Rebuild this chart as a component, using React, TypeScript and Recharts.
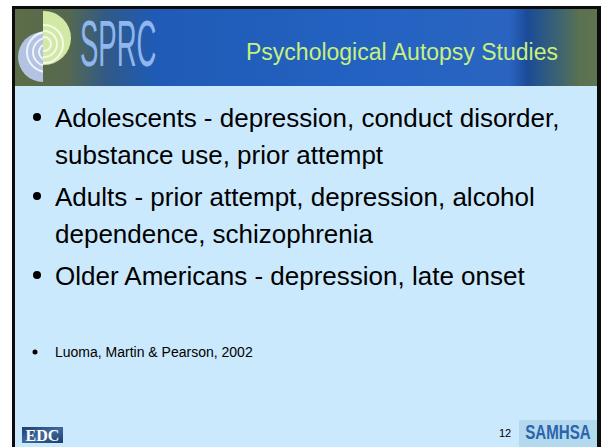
import { ComposedChart, Customized } from 'recharts';

// slide content
const slideTitle = 'Psychological Autopsy Studies';
const bulletPoints = [
  ['Adolescents - depression, conduct disorder,', 'substance use, prior attempt'],
  ['Adults - prior attempt, depression, alcohol', 'dependence, schizophrenia'],
  ['Older Americans - depression, late onset'],
];
const citations = ['Luoma, Martin & Pearson, 2002'];
const pageNumber = '12';
const logoLeft = 'SPRC';
const footerLeft = 'EDC';
const footerRight = 'SAMHSA';

const W = 602;
const H = 447;
const sans = 'Arial, "Liberation Sans", sans-serif';

const SlideArt = () => {
  // baselines for body lines
  let y = 127;
  const rows: { text: string; y: number; first: boolean }[] = [];
  bulletPoints.forEach((p) => {
    p.forEach((t, i) => {
      rows.push({ text: t, y, first: i === 0 });
      y += 37;
    });
    y += 5;
  });

  return (
    <g>
      <defs>
        <linearGradient id="hdr" x1="0" y1="0" x2="1" y2="0">
          <stop offset="0" stopColor="#5c6d48" />
          <stop offset="0.09" stopColor="#56694f" />
          <stop offset="0.16" stopColor="#30598a" />
          <stop offset="0.24" stopColor="#1f5bb6" />
          <stop offset="0.6" stopColor="#2462c2" />
          <stop offset="0.85" stopColor="#2a64c0" />
          <stop offset="0.88" stopColor="#1b4b98" />
          <stop offset="0.93" stopColor="#3a6275" />
          <stop offset="0.97" stopColor="#5a7152" />
          <stop offset="1" stopColor="#5e7350" />
        </linearGradient>
        <linearGradient id="edc" x1="0" y1="0" x2="1" y2="1">
          <stop offset="0" stopColor="#1c3c70" />
          <stop offset="0.5" stopColor="#3e6a9c" />
          <stop offset="1" stopColor="#1a3a6c" />
        </linearGradient>
        <clipPath id="lhalf">
          <rect x={10} y={0} width={33} height={100} />
        </clipPath>
        <clipPath id="rhalf">
          <rect x={43} y={0} width={40} height={100} />
        </clipPath>
      </defs>

      <rect x={0} y={0} width={W} height={H} fill="#ffffff" />
      <rect x={12} y={6} width={589} height={H} fill="#0c0c0c" />
      <rect x={15} y={9} width={582} height={H} fill="#cbe9fd" />
      <rect x={15} y={9} width={582} height={77} fill="url(#hdr)" />

      {/* SPRC mark */}
      <g clipPath="url(#lhalf)">
        <circle cx={43} cy={57} r={25} fill="#b4c3e2" />
        {[8, 14, 20].map((r) => (
          <circle key={r} cx={47} cy={52} r={r} fill="none" stroke="#eef3fb" strokeWidth={2} />
        ))}
      </g>
      <g clipPath="url(#rhalf)">
        <circle cx={44} cy={38} r={27} fill="#d2e9a6" />
        {[7, 13, 19].map((r) => (
          <circle key={r} cx={44} cy={44} r={r} fill="none" stroke="#f3f9e6" strokeWidth={2} />
        ))}
      </g>
      <g transform="translate(80,66) scale(0.43,1)">
        <text x={0} y={0} fontFamily={sans} fontSize={64} fill="#8fb6ee">
          {logoLeft}
        </text>
      </g>

      <text x={246} y={60} fontFamily={sans} fontSize={23} fill="#c8f07c">
        {slideTitle}
      </text>

      {rows.map((r) => (
        <g key={r.text}>
          {r.first && (
            <circle cx={37} cy={r.y - 10} r={4} fill="#000" />
          )}
          <text x={55} y={r.y} fontFamily={sans} fontSize={26} fill="#000">
            {r.text}
          </text>
        </g>
      ))}

      {citations.map((c, i) => (
        <g key={c}>
          <circle cx={35} cy={352 + i * 20} r={2.5} fill="#000" />
          <text x={55} y={357 + i * 20} fontFamily={sans} fontSize={14} fill="#000">
            {c}
          </text>
        </g>
      ))}

      {/* footer */}
      <rect x={22} y={427} width={41} height={16} fill="url(#edc)" />
      <text x={42.5} y={441} fontFamily='"Liberation Serif", "DejaVu Serif", serif' fontSize={16} fontWeight="bold" fill="#ffffff" textAnchor="middle">
        {footerLeft}
      </text>

      <text x={505} y={437} fontFamily={sans} fontSize={11} fill="#000" textAnchor="middle">
        {pageNumber}
      </text>
      <rect x={519} y={420} width={78} height={27} fill="#b3d9ee" />
      <g transform="translate(558,439) scale(0.72,1)">
        <text x={0} y={0} fontFamily={sans} fontSize={21} fontWeight="bold" fill="#2d63ad" textAnchor="middle">
          {footerRight}
        </text>
      </g>
    </g>
  );
};

export default function App() {
  return (
    <div style={{ position: 'absolute', left: 0, top: 0, width: W, height: H }}>
      <ComposedChart width={W} height={H} data={[]} margin={{ top: 0, right: 0, bottom: 0, left: 0 }}>
        <Customized component={SlideArt} />
      </ComposedChart>
    </div>
  );
}
